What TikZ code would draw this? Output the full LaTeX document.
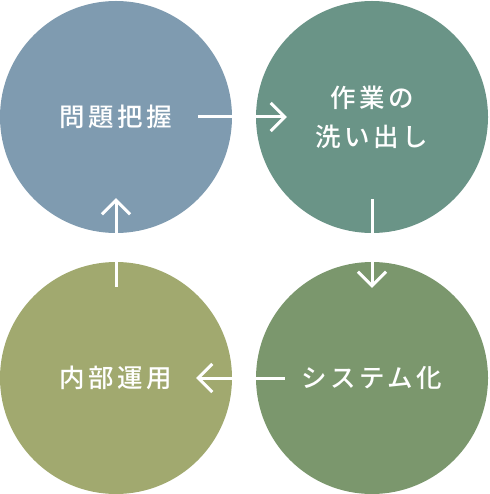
\documentclass[tikz,border=0pt]{standalone}
\usepackage{fontspec}
\newfontfamily\jpfont[LetterSpace=14, UprightFont=* Medium]{Noto Sans CJK JP}
\usetikzlibrary{arrows.meta}

\definecolor{mondaicol}{HTML}{7F9BB0}
\definecolor{sagyoucol}{HTML}{6A9487}
\definecolor{systemcol}{HTML}{7B976D}
\definecolor{unyoucol}{HTML}{A1A96F}

\tikzset{
   step circle/.style={circle, minimum size=232pt, inner sep=0pt, text=white,
      align=center, font=\jpfont\fontsize{25.5}{39}\selectfont},
   flow/.style={white, line width=3pt, -{Straight Barb[length=14pt, width=28pt, line width=3pt]}}
}

\begin{document}
\begin{tikzpicture}[x=1pt, y=-1pt]

   \useasboundingbox (0,0) rectangle (489,494);

   \node (mondai) at (116,117) [step circle, fill=mondaicol] {問題把握} ;
   \node (sagyou) at (372,117) [step circle, fill=sagyoucol] {作業の\\洗い出し} ;
   \node (system) at (372,378) [step circle, fill=systemcol] {システム化} ;
   \node (unyou) at (116,378) [step circle, fill=unyoucol] {内部運用} ;

   \draw [flow] ([xshift=-34pt]mondai.east) -- ([xshift=31pt]sagyou.west);
   \draw [flow] ([yshift=34pt]sagyou.south) -- ([yshift=-26pt]system.north);
   \draw [flow] ([xshift=29pt]system.west) -- ([xshift=-36pt]unyou.east);
   \draw [flow] ([yshift=-25pt]unyou.north) -- ([yshift=35pt]mondai.south);

\end{tikzpicture}
\end{document}
